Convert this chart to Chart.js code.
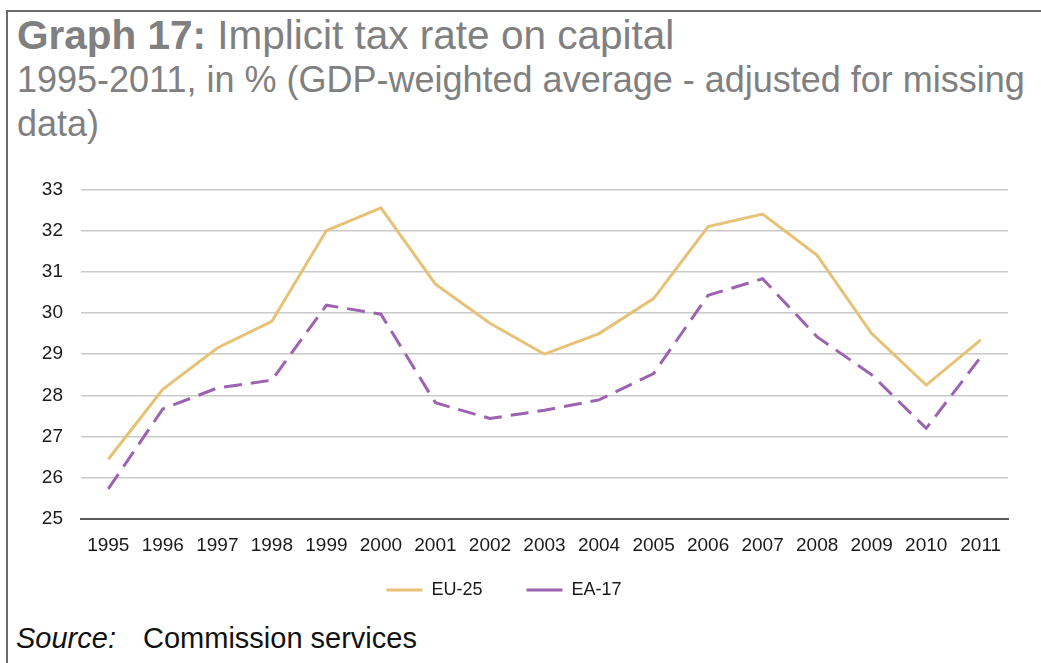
<!DOCTYPE html>
<html>
<head>
<meta charset="utf-8">
<script src="https://cdn.jsdelivr.net/npm/chart.js@4.4.1/dist/chart.umd.min.js"></script>
<style>
  html, body { margin: 0; padding: 0; background: #fff; }
  body { width: 1041px; height: 663px; position: relative; overflow: hidden;
         font-family: "Liberation Sans", Arial, sans-serif; }
  .frame-top { position: absolute; left: 6px; top: 10px; width: 1035px; height: 2px; background: #6b6b6b; }
  .frame-left { position: absolute; left: 6px; top: 10px; width: 2px; height: 653px; background: #6b6b6b; }
  .title { position: absolute; left: 17px; top: 12px; color: #808080; font-size: 40.5px; line-height: 46px; white-space: nowrap; }
  .title b { font-weight: bold; }
  .subtitle { position: absolute; left: 17px; top: 58px; color: #808080; font-size: 36px; line-height: 44px; width: 1020px; }
  .source { position: absolute; left: 16px; top: 621px; color: #111; font-size: 29px; line-height: 34px; white-space: nowrap; }
  .source i { display: inline-block; width: 127px; }
  #wrap { position: absolute; left: 0; top: 160px; width: 1041px; height: 449px; }
</style>
</head>
<body>
<div class="frame-top"></div>
<div class="frame-left"></div>
<div class="title"><b>Graph 17:</b> Implicit tax rate on capital</div>
<div class="subtitle">1995-2011, in % (GDP-weighted average - adjusted for missing data)</div>
<div class="source"><i>Source:</i>Commission services</div>
<div id="wrap"><canvas id="chart"></canvas></div>
<script>
// Years on the horizontal axis
const years = ['1995','1996','1997','1998','1999','2000','2001','2002','2003',
               '2004','2005','2006','2007','2008','2009','2010','2011'];
// Implicit tax rate on capital, %
const eu25 = [26.45, 28.15, 29.15, 29.8, 32.0, 32.55, 30.7, 29.75, 29.0,
              29.5, 30.35, 32.1, 32.4, 31.4, 29.5, 28.25, 29.35];
const ea17 = [25.73, 27.67, 28.18, 28.37, 30.19, 29.97, 27.82, 27.44, 27.64,
              27.89, 28.53, 30.43, 30.83, 29.42, 28.5, 27.2, 28.93];
// Value axis range
const yMin = 25, yMax = 33, yStep = 1;

const gold = '#E7C176';
const purple = '#9C63B0';
const font = '"Liberation Sans", Arial, sans-serif';

new Chart(document.getElementById('chart'), {
  type: 'line',
  data: {
    labels: years,
    datasets: [
      { label: 'EU-25', data: eu25, borderColor: gold, backgroundColor: gold,
        borderWidth: 3, pointRadius: 0, tension: 0 },
      { label: 'EA-17', data: ea17, borderColor: purple, backgroundColor: purple,
        borderWidth: 3, borderDash: [18, 9], pointRadius: 0, tension: 0 }
    ]
  },
  options: {
    responsive: true,
    maintainAspectRatio: false,
    animation: false,
    layout: { padding: { left: 0, right: 33, top: 29, bottom: 0 } },
    plugins: {
      tooltip: { enabled: false },
      legend: {
        position: 'bottom',
        labels: {
          usePointStyle: true,
          pointStyle: 'line',
          pointStyleWidth: 36,
          color: '#1a1a1a',
          font: { family: font, size: 18 },
          padding: 24,
          // widen the gap after the first entry
          generateLabels: chart => {
            const items = Chart.defaults.plugins.legend.labels.generateLabels(chart);
            if (items.length) items[0].text += '    ';
            return items;
          }
        }
      }
    },
    scales: {
      x: {
        offset: true,
        grid: { display: false, drawTicks: false, offset: true },
        border: { display: true, color: '#5a5a5a', width: 2 },
        ticks: { color: '#1a1a1a', font: { family: font, size: 19 }, padding: 15, maxRotation: 0, autoSkip: false },
        afterFit: s => { s.height = 38; }
      },
      y: {
        min: yMin, max: yMax,
        grid: { color: '#cacaca', lineWidth: 1.5, drawTicks: false },
        border: { display: false },
        ticks: { stepSize: yStep, color: '#1a1a1a', font: { family: font, size: 19 }, padding: 18 },
        afterFit: s => { s.width = 81; }
      }
    }
  }
});
</script>
</body>
</html>
